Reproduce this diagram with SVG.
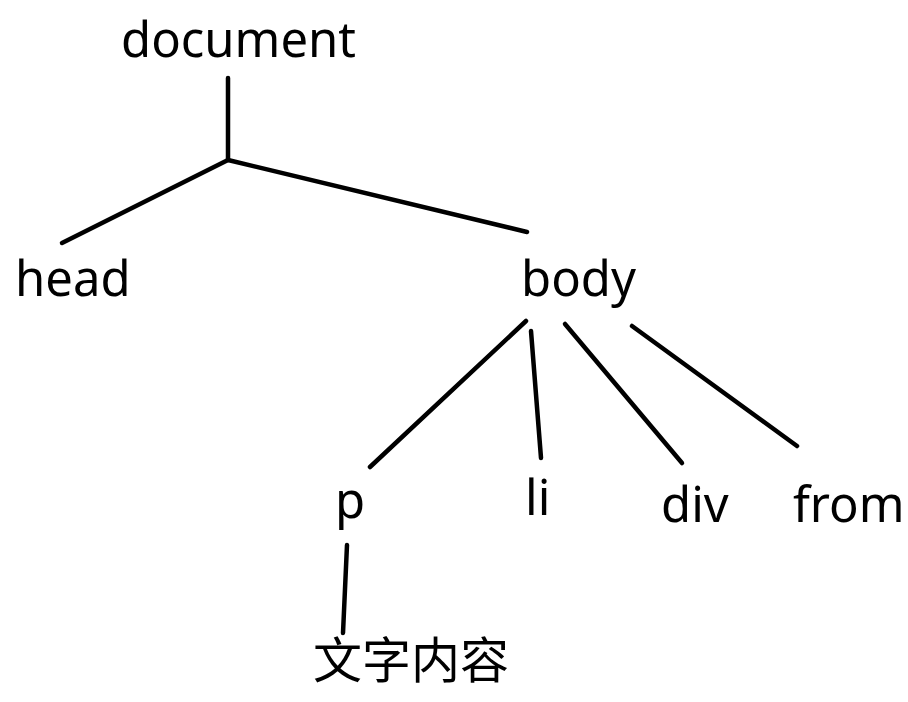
<svg xmlns="http://www.w3.org/2000/svg" width="908" height="702" viewBox="0 0 908 702">
<style>
text{font-family:"Noto Sans","Noto Sans CJK SC",sans-serif;font-size:49px;fill:#000}
.c line{stroke:#000;stroke-width:4.5;stroke-linecap:round}
</style>
<rect width="908" height="702" fill="#fff"/>
<g id="connectors" class="c">
<line x1="228" y1="78" x2="228" y2="159"/>
<line x1="228" y1="160" x2="62" y2="243"/>
<line x1="228" y1="160" x2="527" y2="232"/>
<line x1="526" y1="321" x2="370" y2="467"/>
<line x1="531" y1="331" x2="541" y2="458"/>
<line x1="565" y1="324" x2="682" y2="463"/>
<line x1="632" y1="326" x2="797" y2="446"/>
<line x1="347" y1="545" x2="343" y2="633"/>
</g>
<g id="document"><text x="121" y="57">document</text></g>
<g id="head"><text x="15" y="296">head</text></g>
<g id="body"><text x="521" y="296">body</text></g>
<g id="p"><text x="335" y="518">p</text></g>
<g id="li"><text x="525" y="515">li</text></g>
<g id="div"><text x="661" y="522">div</text></g>
<g id="from"><text x="793" y="522">from</text></g>
<g id="text"><text x="313" y="678">文字内容</text></g>
</svg>
